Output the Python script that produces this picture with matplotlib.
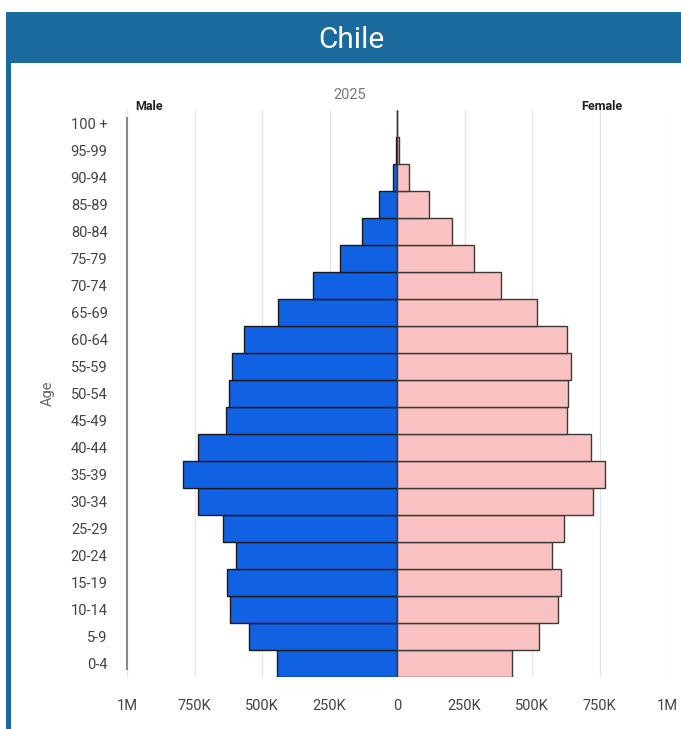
import matplotlib.pyplot as plt
from matplotlib.patches import Rectangle
from matplotlib.ticker import FuncFormatter

plt.rcParams['font.family'] = ['Roboto', 'DejaVu Sans']

# Chile population by five-year age group, 2025
age_groups = ["0-4", "5-9", "10-14", "15-19", "20-24", "25-29", "30-34", "35-39",
              "40-44", "45-49", "50-54", "55-59", "60-64", "65-69", "70-74",
              "75-79", "80-84", "85-89", "90-94", "95-99", "100 +"]
male = [444000, 548000, 619000, 630000, 596000, 644000, 737000, 793000,
        737000, 633000, 622000, 611000, 567000, 441000, 311000,
        211000, 131000, 67000, 16000, 3000, 1000]
female = [426000, 526000, 596000, 607000, 574000, 619000, 726000, 770000,
          719000, 630000, 633000, 644000, 630000, 519000, 385000,
          285000, 204000, 118000, 45000, 6000, 1500]
x_ticks = [-1_000_000, -750_000, -500_000, -250_000, 0, 250_000, 500_000, 750_000, 1_000_000]

male_color = "#1162E3"
female_color = "#F9C1C1"
header_color = "#1A6A9E"

W, H = 681, 729
fig = plt.figure(figsize=(W / 100, H / 100), dpi=100)

# Card frame: header band and left border
fig.patches.append(Rectangle((6 / W, 1 - 63 / H), 1 - 6 / W, 51 / H,
                             transform=fig.transFigure, facecolor=header_color,
                             edgecolor="none", zorder=0))
fig.patches.append(Rectangle((6 / W, 0), 5 / W, 1 - 63 / H,
                             transform=fig.transFigure, facecolor=header_color,
                             edgecolor="none", zorder=0))
fig.text(351 / W, 1 - 40 / H, "Chile", color="white", fontsize=21.5,
         ha="center", va="center")

ax = fig.add_axes([127 / W, 52 / H, 540 / W, 567 / H])
y = list(range(len(age_groups)))
ax.barh(y, [-v for v in male], height=0.97, color=male_color,
        edgecolor="#1a1a1a", linewidth=1.0, zorder=3)
ax.barh(y, female, height=0.97, color=female_color,
        edgecolor="#3a3a3a", linewidth=1.0, zorder=3)

ax.set_xlim(-1_000_000, 1_000_000)
ax.set_ylim(-0.5, len(age_groups) - 0.5)
ax.set_yticks(y)
ax.set_yticklabels(age_groups)
ax.set_xticks(x_ticks)


def fmt(v, _):
    a = abs(v)
    if a >= 1_000_000:
        return "1M"
    if a == 0:
        return "0"
    return f"{int(a / 1000)}K"


ax.xaxis.set_major_formatter(FuncFormatter(fmt))
ax.tick_params(axis="both", length=0, labelsize=10.5, colors="#444444")
ax.tick_params(axis="y", pad=14)
ax.tick_params(axis="x", pad=16)
ax.grid(axis="x", color="#e6e6e6", linewidth=1.0, zorder=0)
for s in ["top", "right", "bottom"]:
    ax.spines[s].set_visible(False)
ax.spines["left"].set_color("#888888")
ax.spines["left"].set_linewidth(1.5)
ax.spines["left"].set_bounds(-0.2, 20.2)

ax.set_ylabel("Age", color="#666666", fontsize=10.5, labelpad=6)
ax.yaxis.set_label_coords(-72 / 540, 0.5)

fig.text(350 / W, 1 - 95 / H, "2025", color="#777777", fontsize=10.5,
         ha="center", va="center")
fig.text(149 / W, 1 - 106 / H, "Male", color="#222222", fontsize=9,
         fontweight="bold", ha="center", va="center")
fig.text(602 / W, 1 - 106 / H, "Female", color="#222222", fontsize=9,
         fontweight="bold", ha="center", va="center")

fig.savefig("out.png", dpi=100)
